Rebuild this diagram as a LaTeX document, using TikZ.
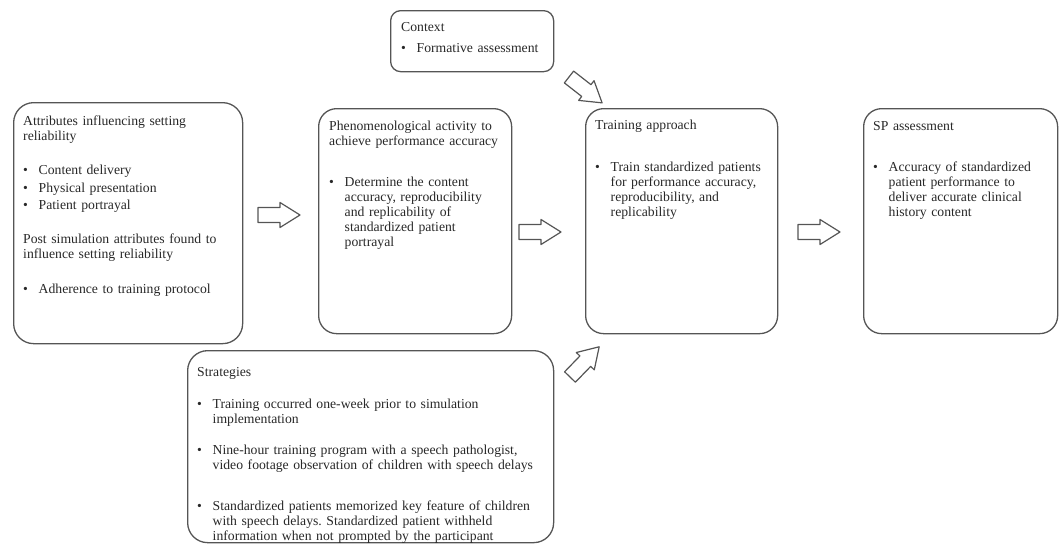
\documentclass[tikz,border=0pt]{standalone}
\usepackage{fontspec}
\setmainfont{Liberation Serif}
\definecolor{linec}{RGB}{85,85,85}
\definecolor{textc}{RGB}{40,40,40}
\newcommand\bl[2][0pt]{\par{\leftskip=15.5pt\noindent\llap{\makebox[15.5pt][l]{\hspace*{#1}\textbullet}}#2\par}}
\newcommand\gap[1]{\par\vspace{#1}}
\tikzset{
  box/.style={draw=linec, line width=1.3pt, rounded corners=#1, anchor=north west, inner sep=0pt},
  txt/.style={anchor=north west, inner sep=0pt, text width=#1, align=left,
    font=\fontsize{13.7}{15}\selectfont\frenchspacing, text=textc},
  barrow/.pic={\draw[linec, line width=1.2pt, line join=round]
    (0,-7.5) -- (22,-7.5) -- (22,-12.5) -- (42,0) -- (22,12.5) -- (22,7.5) -- (0,7.5) -- cycle;}
}
\begin{document}
\begin{tikzpicture}[x=1pt,y=-1pt]
\useasboundingbox (0,0) rectangle (1061,544);
% boxes
\node[box=20pt, minimum width=229pt, minimum height=241pt] (b1) at (13,102) {};
\node[box=18pt, minimum width=193pt, minimum height=225pt] (b2) at (318,108) {};
\node[box=10pt, minimum width=163pt, minimum height=61pt] (ctx) at (390,10) {};
\node[box=18pt, minimum width=192pt, minimum height=225pt] (tr) at (585,108) {};
\node[box=18pt, minimum width=194pt, minimum height=225pt] (sp) at (863,108) {};
\node[box=20pt, minimum width=366pt, minimum height=192pt] (st) at (187,350) {};
% texts
\node[txt=215pt] (t1) at (23,114.5) {\strut Attributes influencing setting\\reliability
  \gap{19pt}\bl{Content delivery}\gap{3pt}\bl{Physical presentation}\gap{2pt}\bl{Patient portrayal}
  \gap{19pt}\noindent Post simulation attributes found to\\influence setting reliability
  \gap{20pt}\bl{Adherence to training protocol}};
\node[txt=180pt] (t2) at (329,119.5) {\strut Phenomenological activity to\\achieve performance accuracy
  \gap{26pt}\bl{Determine the content\\accuracy, reproducibility\\and replicability of\\standardized patient\\portrayal}};
\node[txt=150pt] (tc) at (401,20.5) {\strut Context
  \gap{6pt}\bl{Formative assessment}};
\node[txt=180pt] (tt) at (595,118.5) {\strut Training approach
  \gap{27pt}\bl{Train standardized patients\\for performance accuracy,\\reproducibility, and\\replicability}};
\node[txt=180pt] (ts) at (873,119.5) {\strut SP assessment
  \gap{26pt}\bl{Accuracy of standardized\\patient performance to\\deliver accurate clinical\\history content}};
\node[txt=350pt] (tst) at (197,365.5) {\strut Strategies
  \gap{17pt}\bl{Training occurred one-week prior to simulation\\implementation}
  \gap{16pt}\bl{Nine-hour training program with a speech pathologist,\\video footage observation of children with speech delays}
  \gap{26pt}\bl{Standardized patients memorized key feature of children\\with speech delays. Standardized patient withheld\\information when not prompted by the participant}};
% block arrows
\pic at (258,215) {barrow};
\pic at (519,232) {barrow};
\pic at (798,232) {barrow};
\pic[rotate=-38] at (569,77) {barrow};
\pic[rotate=46] at (570,377) {barrow};
\end{tikzpicture}
\end{document}
